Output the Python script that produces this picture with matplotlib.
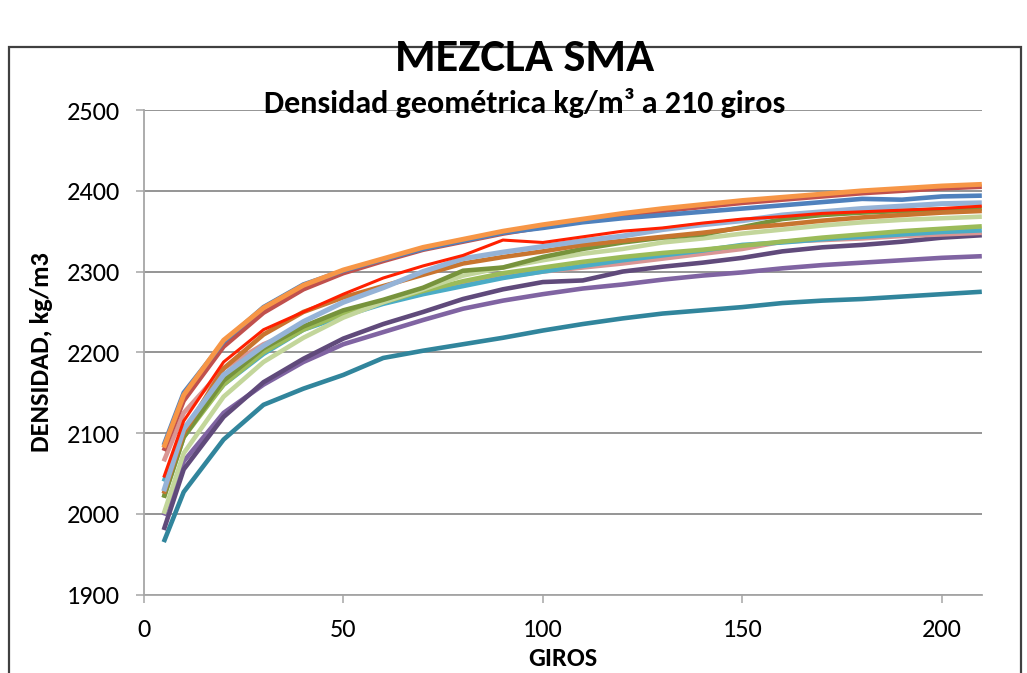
import matplotlib as mpl
import matplotlib.pyplot as plt
from matplotlib.patches import Rectangle

mpl.rcParams.update({
    "font.family": ["Carlito", "Liberation Sans Narrow", "DejaVu Sans"],
    "figure.dpi": 100,
})

# giros
giros = [5, 10, 20, 30, 40, 50, 60, 70, 80, 90, 100, 110, 120, 130, 140,
         150, 160, 170, 180, 190, 200, 210]

# densities, one list per series
teal = [1965, 2027, 2092, 2135, 2155, 2172, 2193, 2202, 2210, 2218, 2227,
        2235, 2242, 2248, 2252, 2256, 2261, 2264, 2266, 2269, 2272, 2275]
purple = [1998, 2065, 2125, 2160, 2188, 2210, 2225, 2240, 2254, 2264, 2272,
          2279, 2284, 2290, 2295, 2299, 2304, 2308, 2311, 2314, 2317, 2319]
dark_purple = [1980, 2055, 2120, 2163, 2192, 2217, 2235, 2250, 2266, 2278,
               2287, 2289, 2300, 2306, 2311, 2317, 2325, 2330, 2333, 2337,
               2342, 2345]
pink = [2065, 2125, 2180, 2210, 2230, 2248, 2263, 2275, 2285, 2293, 2300,
        2305, 2310, 2316, 2322, 2328, 2337, 2339, 2341, 2344, 2346, 2348]
cyan = [2040, 2100, 2160, 2198, 2228, 2245, 2260, 2272, 2282, 2292, 2300,
        2307, 2314, 2320, 2326, 2333, 2336, 2340, 2343, 2346, 2349, 2351]
green = [2020, 2095, 2160, 2200, 2228, 2248, 2262, 2276, 2288, 2298, 2305,
         2312, 2318, 2323, 2327, 2332, 2337, 2342, 2346, 2350, 2353, 2356]
light_green = [2000, 2075, 2145, 2188, 2218, 2243, 2262, 2278, 2295, 2305,
               2314, 2322, 2328, 2336, 2341, 2347, 2352, 2357, 2361, 2364,
               2366, 2368]
olive = [2020, 2095, 2165, 2205, 2232, 2252, 2265, 2280, 2301, 2305, 2318,
         2328, 2336, 2342, 2346, 2355, 2365, 2370, 2373, 2375, 2377, 2378]
dark_orange = [2025, 2100, 2180, 2222, 2250, 2268, 2282, 2296, 2310, 2318,
               2325, 2333, 2338, 2343, 2348, 2354, 2358, 2363, 2367, 2370,
               2373, 2375]
light_blue = [2028, 2105, 2172, 2208, 2238, 2262, 2280, 2300, 2316, 2324,
              2331, 2338, 2344, 2352, 2358, 2363, 2370, 2374, 2378, 2381,
              2384, 2385]
red = [2045, 2115, 2188, 2228, 2250, 2272, 2292, 2307, 2320, 2339, 2336,
       2343, 2350, 2354, 2360, 2365, 2368, 2372, 2374, 2376, 2378, 2381]
dark_red = [2078, 2140, 2207, 2249, 2278, 2298, 2313, 2327, 2337, 2347, 2355,
            2362, 2369, 2375, 2380, 2385, 2389, 2393, 2397, 2400, 2403, 2405]
blue = [2085, 2150, 2213, 2256, 2284, 2301, 2315, 2328, 2338, 2348, 2354,
        2361, 2366, 2370, 2374, 2378, 2382, 2386, 2390, 2389, 2393, 2394]
orange = [2082, 2147, 2215, 2255, 2283, 2302, 2316, 2330, 2340, 2350, 2358,
          2365, 2372, 2378, 2383, 2388, 2392, 2396, 2400, 2403, 2406, 2408]

series = [
    (teal, "#31859C", 3.3),
    (purple, "#8064A2", 3.3),
    (dark_purple, "#604A7B", 3.3),
    (pink, "#D99694", 3.3),
    (cyan, "#4BACC6", 3.3),
    (green, "#9BBB59", 3.3),
    (light_green, "#C3D69B", 3.3),
    (olive, "#77933C", 3.3),
    (dark_orange, "#C8752F", 3.3),
    (light_blue, "#95B3D7", 3.7),
    (red, "#FF2000", 2.2),
    (dark_red, "#C0504D", 3.3),
    (blue, "#4F81BD", 3.3),
    (orange, "#F79646", 3.5),
]

fig = plt.figure(figsize=(10.27, 6.73))
ax = fig.add_axes([0.140, 0.1165, 0.816, 0.7200])

for y, color, lw in series:
    ax.plot(giros, y, color=color, linewidth=lw, solid_capstyle="butt",
            solid_joinstyle="round")

ax.set_xlim(0, 210)
ax.set_ylim(1900, 2500)
ax.set_xticks([0, 50, 100, 150, 200])
ax.set_yticks(range(1900, 2501, 100))
ax.grid(True, axis="y", color="#8C8C8C", linewidth=1.3)
ax.set_axisbelow(True)
for s in ["top", "right"]:
    ax.spines[s].set_visible(False)
for s in ["left", "bottom"]:
    ax.spines[s].set_color("#A6A6A6")
    ax.spines[s].set_linewidth(1.3)
ax.tick_params(direction="out", length=6, width=1.1, color="#A6A6A6",
               labelsize=19, pad=11)

ax.set_xlabel("GIROS", fontsize=19, fontweight="bold", labelpad=4)
ax.set_ylabel("DENSIDAD, kg/m3", fontsize=19, fontweight="bold", labelpad=10)

fig.text(0.511, 0.914, "MEZCLA SMA", ha="center", va="center",
         fontsize=33.5, fontweight="bold")
fig.text(0.511, 0.847, "Densidad geométrica kg/m³ a 210 giros", ha="center",
         va="center", fontsize=23, fontweight="bold")

# chart frame (bottom edge lies below the visible area)
fig.patches.append(Rectangle((0.009, -0.05), 0.985, 1.03 - 0.05,
                             transform=fig.transFigure, fill=False,
                             edgecolor="#404040", linewidth=1.6))

fig.savefig("out.png", dpi=100)
